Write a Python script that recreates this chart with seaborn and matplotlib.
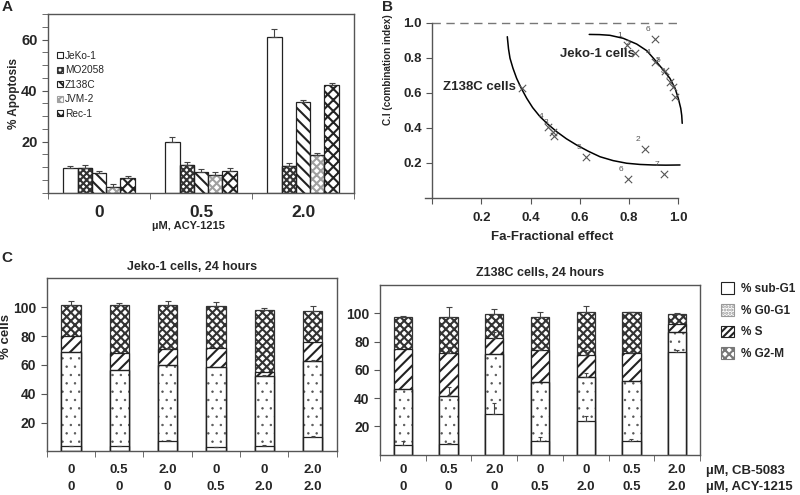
import numpy as np
import pandas as pd
import matplotlib
matplotlib.use('Agg')
import matplotlib.pyplot as plt
import matplotlib.transforms as mtransforms
from matplotlib.patches import Patch, Rectangle
from matplotlib.ticker import MultipleLocator
import seaborn as sns

# ---------------- Panel A: % apoptosis by ACY-1215 dose ----------------
doses_a = ['0', '0.5', '2.0']
cell_lines = ['JeKo-1', 'MO2058', 'Z138C', 'JVM-2', 'Rec-1']
jeko_apop = [9.8, 20.0, 60.8]
mo2058_apop = [9.8, 10.8, 10.5]
z138c_apop = [7.6, 8.2, 35.7]
jvm2_apop = [2.4, 6.9, 14.8]
rec1_apop = [5.6, 8.6, 42.2]
jeko_err = [0.8, 2.0, 3.3]
mo2058_err = [1.0, 1.1, 1.0]
z138c_err = [0.9, 1.0, 0.8]
jvm2_err = [1.2, 1.1, 0.9]
rec1_err = [1.0, 1.1, 0.9]

# ---------------- Panel B: combination index vs Fa ----------------
jeko_fa = [0.79, 0.824, 0.905, 0.905, 0.946, 0.966, 0.98, 0.987]
jeko_ci = [0.872, 0.825, 0.905, 0.777, 0.726, 0.663, 0.63, 0.577]
jeko_pt_labels = ['1', '2', '6', '4', '5', '8', '7', '']
z138c_fa = [0.363, 0.472, 0.492, 0.496, 0.625, 0.797, 0.865, 0.943]
z138c_ci = [0.625, 0.406, 0.377, 0.353, 0.234, 0.107, 0.277, 0.135]
z138c_pt_labels = ['', '4', '3', '', '5', '6', '2', '7']
# fitted curves
jeko_curve_fa = [0.638, 0.68, 0.722, 0.776, 0.831, 0.872, 0.905, 0.939, 0.966,
                 0.987, 1.0, 1.010, 1.014, 1.016]
jeko_curve_ci = [0.933, 0.932, 0.928, 0.911, 0.878, 0.840, 0.787, 0.730, 0.682,
                 0.625, 0.568, 0.511, 0.47, 0.425]
z138c_curve_fa = [0.305, 0.310, 0.316, 0.328, 0.343, 0.362, 0.384, 0.408, 0.438,
                  0.47, 0.506, 0.545, 0.587, 0.635, 0.682, 0.735, 0.790, 0.845,
                  0.898, 0.95, 1.007]
z138c_curve_ci = [0.92, 0.85, 0.797, 0.74, 0.682, 0.625, 0.568, 0.515, 0.463,
                  0.42, 0.377, 0.337, 0.301, 0.265, 0.234, 0.212, 0.197, 0.190,
                  0.187, 0.186, 0.187]
ci_additive = 1.0

# ---------------- Panel C: cell cycle distribution ----------------
jeko_cb = ['0', '0.5', '2.0', '0', '0', '2.0']
jeko_acy = ['0', '0', '0', '0.5', '2.0', '2.0']
jeko_subg1 = [3.5, 3.5, 7.4, 3.0, 3.5, 9.9]
jeko_g0g1 = [65.1, 53.1, 52.2, 55.4, 48.9, 52.5]
jeko_s = [11.5, 11.5, 11.3, 13.2, 3.0, 13.8]
jeko_g2m = [21.1, 33.1, 30.3, 28.9, 42.8, 21.3]
jeko_err_tot = [2.8, 1.6, 2.8, 2.8, 1.2, 3.4]
jeko_err_sub = [0.3, 0.3, 0.5, 0.3, 1.0, 0.6]
jeko_err_g0 = [0, 0, 0, 0, 0.5, 1.2]
jeko_err_s = [0, 0, 0.8, 0, 0, 0]

z138c_cb = ['0', '0.5', '2.0', '0', '0', '0.5', '2.0']
z138c_acy = ['0', '0', '0', '0.5', '2.0', '0.5', '2.0']
z138c_subg1 = [6.6, 7.5, 28.7, 9.4, 23.5, 9.9, 72.9]
z138c_g0g1 = [39.8, 34.1, 42.4, 41.7, 31.3, 41.9, 13.5]
z138c_s = [28.2, 30.2, 11.3, 23.0, 15.3, 20.0, 6.1]
z138c_g2m = [22.6, 25.8, 16.9, 23.5, 31.1, 28.9, 7.0]
z138c_err_tot = [0.8, 7.0, 3.5, 3.0, 4.0, 0.5, 0.5]
z138c_err_sub = [2.8, 1.0, 7.8, 2.8, 4.0, 0.8, 1.0]
z138c_err_g0 = [0, 6.0, 0, 0, 2.8, 0, 0]
z138c_err_s = [0, 4.0, 4.0, 1.0, 4.0, 1.0, 0]

phase_labels = ['% sub-G1', '% G0-G1', '% S', '% G2-M']

sns.set_style('ticks')
plt.rcParams['font.family'] = ['Liberation Sans', 'DejaVu Sans']
plt.rcParams['font.weight'] = 'bold'
plt.rcParams['hatch.linewidth'] = 1.5
EDGE = '#222222'
SPINE = '#555555'

fig = plt.figure(figsize=(8, 4.95), dpi=100)
fig.patch.set_facecolor('white')


def thin_hatch(patch, lw):
    # per-patch hatch width where matplotlib supports it
    if hasattr(patch, 'set_hatch_linewidth'):
        patch.set_hatch_linewidth(lw)


def upper_err(ax, xs, ys, errs, cap=2.0):
    xs = np.asarray(xs, float)
    ys = np.asarray(ys, float)
    errs = np.asarray(errs, float)
    m = errs > 0
    ax.errorbar(xs[m], ys[m], yerr=[np.zeros(m.sum()), errs[m]], fmt='none',
                ecolor='#444444', elinewidth=0.8, capsize=cap, capthick=0.8, zorder=5)


# ---------------- A ----------------
axA = fig.add_axes([0.06, 0.6107, 0.3825, 0.361])
dfA = pd.DataFrame({
    'dose': doses_a * 5,
    'line': np.repeat(cell_lines, 3),
    'value': jeko_apop + mo2058_apop + z138c_apop + jvm2_apop + rec1_apop,
})
sns.barplot(data=dfA, x='dose', y='value', hue='line', order=doses_a,
            hue_order=cell_lines, palette=['white'] * 5, saturation=1,
            width=0.7, edgecolor=EDGE, linewidth=0.9, errorbar=None,
            legend=False, ax=axA)
hatches_a = ['', 'xxxxx', '\\\\\\', 'xxxx', 'xxx']
hatch_cols_a = [EDGE, '#333333', EDGE, '#a0a0a0', EDGE]
errs_a = [jeko_err, mo2058_err, z138c_err, jvm2_err, rec1_err]
for cont, h, hc, er in zip(axA.containers, hatches_a, hatch_cols_a, errs_a):
    xs, ys = [], []
    for bar in cont:
        bar.set_hatch(h)
        bar.set_edgecolor(hc)
        if hc != EDGE:
            axA.add_patch(Rectangle((bar.get_x(), 0), bar.get_width(), bar.get_height(),
                                    fill=False, edgecolor=EDGE, linewidth=0.9, zorder=3))
        xs.append(bar.get_x() + bar.get_width() / 2)
        ys.append(bar.get_height())
    upper_err(axA, xs, ys, er)

axA.set_xlim(-0.5, 2.5)
axA.set_ylim(0, 70)
axA.set_yticks([20, 40, 60])
axA.yaxis.set_minor_locator(MultipleLocator(5))
axA.set_xticks([-0.5, 0.5, 1.5, 2.5], minor=True)
axA.tick_params(axis='x', which='major', length=0, labelsize=12.5, pad=9)
axA.tick_params(axis='x', which='minor', length=4, direction='out', color=SPINE)
axA.tick_params(axis='y', which='both', length=4, direction='out', color=SPINE, labelsize=10.5)
axA.set_xlabel('')
axA.set_ylabel('')
for sp in axA.spines.values():
    sp.set_visible(True)
    sp.set_color(SPINE)
    sp.set_linewidth(1.0)
handles_a = [Patch(facecolor='white', edgecolor=hc, hatch=h, linewidth=0.8)
             for h, hc in zip(hatches_a, hatch_cols_a)]
axA.legend(handles_a, cell_lines, loc='upper left', bbox_to_anchor=(0.03, 0.795),
           frameon=False, prop={'size': 7.3, 'weight': 'normal'}, handlelength=0.55,
           handleheight=0.55, handletextpad=0.2, labelspacing=0.45, borderpad=0,
           borderaxespad=0)
fig.text(0.236, 1 - 226 / 495, 'µM, ACY-1215', ha='center', va='center', fontsize=8)
fig.text(0.017, 0.812, '% Apoptosis', rotation=90, ha='center', va='center', fontsize=8.5)
fig.text(0.009, 0.985, 'A', ha='center', va='center', fontsize=11)

# ---------------- B ----------------
axB = fig.add_axes([0.5311, 0.6006, 0.3229, 0.3712])
sns.lineplot(x=jeko_curve_fa, y=jeko_curve_ci, sort=False, estimator=None,
             color='black', linewidth=1.1, ax=axB)
sns.lineplot(x=z138c_curve_fa, y=z138c_curve_ci, sort=False, estimator=None,
             color='black', linewidth=1.1, ax=axB)
sns.scatterplot(x=jeko_fa + z138c_fa, y=jeko_ci + z138c_ci, marker='x', s=28,
                color='#555555', linewidth=0.8, ax=axB, zorder=4)
for fa, ci, lab in zip(jeko_fa + z138c_fa, jeko_ci + z138c_ci, jeko_pt_labels + z138c_pt_labels):
    if lab:
        axB.annotate(lab, (fa, ci), xytext=(-5, 7), textcoords='offset points',
                     ha='center', va='center', fontsize=6, color='#555555',
                     fontweight='normal', annotation_clip=False)
axB.hlines(ci_additive, 0, 1.0, colors='#777777', linestyles=(0, (6, 4)), linewidth=1.0)
axB.text(0.67, 0.82, 'Jeko-1 cells', ha='center', va='center', fontsize=9.5)
axB.text(0.19, 0.632, 'Z138C cells', ha='center', va='center', fontsize=9.5)
axB.set_xlim(-0.03, 1.02)
axB.set_ylim(0, 1.05)
axB.spines['top'].set_visible(False)
axB.spines['right'].set_visible(False)
axB.spines['left'].set_position(('data', 0))
axB.spines['left'].set_bounds(0, 1.0)
axB.spines['bottom'].set_bounds(-0.03, 1.0)
for sp in ('left', 'bottom'):
    axB.spines[sp].set_color(SPINE)
    axB.spines[sp].set_linewidth(1.0)
axB.set_xticks([0, 0.2, 0.4, 0.6, 0.8, 1.0])
axB.set_xticklabels(['', '0.2', '0.4', '0.6', '0.8', '1.0'])
axB.set_yticks([0.2, 0.4, 0.6, 0.8, 1.0])
axB.set_yticklabels(['0.2', '0.4', '0.6', '0.8', '1.0'])
axB.tick_params(axis='both', length=4, direction='out', color=SPINE, labelsize=9.5)
axB.tick_params(axis='x', pad=6)
axB.set_xlabel('')
axB.set_ylabel('')
fig.text(0.69, 0.522, 'Fa-Fractional effect', ha='center', va='center', fontsize=9.5)
fig.text(0.485, 0.86, 'C.I (combination index)', rotation=90, ha='center', va='center',
         fontsize=7.2)
fig.text(0.484, 0.985, 'B', ha='center', va='center', fontsize=11)

# ---------------- C ----------------
hatch_g2m = 'xxxx'
hatch_s = '///'
hatch_g0 = '..'


def cycle_panel(ax, sub, g0, s, g2m, err_tot, err_sub, err_g0, err_s):
    sub = np.array(sub)
    top_g0 = sub + np.array(g0)
    top_s = top_g0 + np.array(s)
    total = top_s + np.array(g2m)
    pos = list(range(len(sub)))
    layers = [(total, hatch_g2m, '#333333'), (top_s, hatch_s, EDGE),
              (top_g0, hatch_g0, '#555555'), (sub, '', EDGE)]
    for vals, h, ec in layers:
        n0 = len(ax.patches)
        sns.barplot(x=pos, y=vals, color='white', saturation=1, width=0.4,
                    edgecolor=ec, linewidth=0.9, errorbar=None, ax=ax)
        for p in ax.patches[n0:]:
            p.set_hatch(h)
            if h == hatch_g0:
                thin_hatch(p, 0.5)
    # dark outline over the dotted segment
    sns.barplot(x=pos, y=top_g0, color=EDGE, fill=False, width=0.4,
                linewidth=0.9, errorbar=None, ax=ax)
    upper_err(ax, pos, total, err_tot)
    upper_err(ax, pos, top_s, err_s, cap=1.5)
    upper_err(ax, pos, top_g0, err_g0, cap=1.5)
    upper_err(ax, pos, sub, err_sub, cap=1.5)
    ax.set_xlim(-0.5, len(sub) - 0.5)
    ax.set_ylim(0, 120)
    ax.set_yticks([20, 40, 60, 80, 100])
    ax.set_xticks([k - 0.5 for k in range(len(sub) + 1)], minor=True)
    ax.set_xticks(pos)
    ax.set_xticklabels([])
    ax.tick_params(axis='x', which='major', length=0)
    ax.tick_params(axis='x', which='minor', length=4, direction='out', color=SPINE)
    ax.tick_params(axis='y', length=4, direction='out', color=SPINE, labelsize=10)
    ax.set_xlabel('')
    ax.set_ylabel('')
    for sp in ax.spines.values():
        sp.set_visible(True)
        sp.set_color(SPINE)
        sp.set_linewidth(1.0)


axC1 = fig.add_axes([0.0584, 0.0879, 0.3625, 0.3499])
cycle_panel(axC1, jeko_subg1, jeko_g0g1, jeko_s, jeko_g2m,
            jeko_err_tot, jeko_err_sub, jeko_err_g0, jeko_err_s)
axC2 = fig.add_axes([0.475, 0.0818, 0.4, 0.3424])
cycle_panel(axC2, z138c_subg1, z138c_g0g1, z138c_s, z138c_g2m,
            z138c_err_tot, z138c_err_sub, z138c_err_g0, z138c_err_s)

for ax, cb, acy in ((axC1, jeko_cb, jeko_acy), (axC2, z138c_cb, z138c_acy)):
    tr = mtransforms.blended_transform_factory(ax.transData, fig.transFigure)
    for k, (c, a) in enumerate(zip(cb, acy)):
        ax.text(k, 0.050, c, transform=tr, ha='center', va='center', fontsize=9.5)
        ax.text(k, 0.016, a, transform=tr, ha='center', va='center', fontsize=9.5)

fig.text(0.2396, 0.46, 'Jeko-1 cells, 24 hours', ha='center', va='center', fontsize=9)
fig.text(0.675, 0.448, 'Z138C cells, 24 hours', ha='center', va='center', fontsize=9)
fig.text(0.883, 0.049, 'µM, CB-5083', ha='left', va='center', fontsize=9.5)
fig.text(0.8825, 0.016, 'µM, ACY-1215', ha='left', va='center', fontsize=9.5)
fig.text(0.008, 0.321, '% cells', rotation=90, ha='center', va='center', fontsize=9.5)
fig.text(0.009, 0.479, 'C', ha='center', va='center', fontsize=11)

handles_c = [Patch(facecolor='white', edgecolor=EDGE, linewidth=0.8),
             Patch(facecolor='white', edgecolor='#999999', hatch='.....', linewidth=0.8),
             Patch(facecolor='white', edgecolor=EDGE, hatch='/////', linewidth=0.8),
             Patch(facecolor='white', edgecolor='#777777', hatch='xxxx', linewidth=0.8)]
fig.legend(handles_c, phase_labels, loc='upper left', bbox_to_anchor=(0.901, 0.43),
           frameon=False, prop={'size': 8.5, 'weight': 'bold'}, handlelength=1.15,
           handleheight=1.15, handletextpad=0.55, labelspacing=0.75, borderpad=0,
           borderaxespad=0)

fig.savefig('out.png', dpi=100, facecolor='white')
